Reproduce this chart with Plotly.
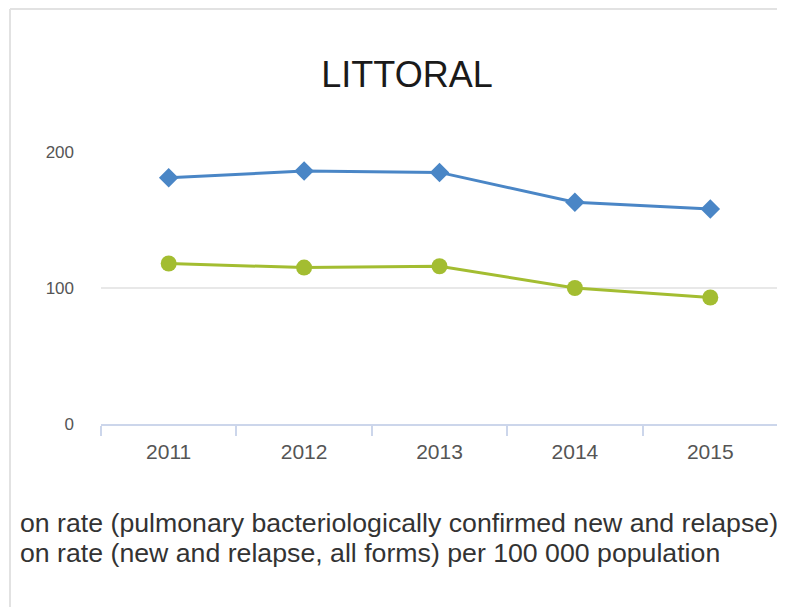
import plotly.graph_objects as go

years = ["2011", "2012", "2013", "2014", "2015"]
bact_confirmed = [181, 186, 185, 163, 158]
all_forms = [118, 115, 116, 100, 93]
series_names = [
    "on rate (pulmonary bacteriologically confirmed new and relapse)",
    "on rate (new and relapse, all forms) per 100 000 population",
]
title_text = "LITTORAL"

OFF = 8  # page body margin offset
W, H = 785, 607
L, T = 101 - OFF, 152 - OFF
pw, ph = 677, 272
R, B = W - L - pw, H - T - ph

def px2paper_x(px):
    return (px - OFF - L) / pw

def px2paper_y(py):
    return (T + ph - (py - OFF)) / ph

FONT = "Liberation Sans, Arial, Helvetica, sans-serif"

fig = go.Figure()
fig.add_trace(go.Scatter(
    x=years, y=bact_confirmed, mode="lines+markers", name=series_names[0],
    line=dict(color="#4a86c6", width=3),
    marker=dict(symbol="diamond", size=15, color="#4a86c6"),
    showlegend=False,
))
fig.add_trace(go.Scatter(
    x=years, y=all_forms, mode="lines+markers", name=series_names[1],
    line=dict(color="#a3bd31", width=3),
    marker=dict(symbol="circle", size=16, color="#a3bd31"),
    showlegend=False,
))

fig.update_layout(
    width=W, height=H,
    margin=dict(l=L, r=R, t=T, b=B),
    paper_bgcolor="white", plot_bgcolor="white",
    font=dict(family=FONT, color="#333333"),
    title=dict(text=title_text, xref="container", yref="container",
               x=(407 - OFF) / W, y=1 - (74 - OFF) / H, xanchor="center", yanchor="middle",
               font=dict(size=36, color="#1a1a1a", family=FONT)),
    xaxis=dict(
        type="category", range=[-0.5, 4.5], showgrid=False,
        showline=True, linecolor="#ccd6eb", linewidth=2,
        ticks="outside", tickson="boundaries", ticklen=10, tickcolor="#ccd6eb", tickwidth=2,
        tickfont=dict(size=21, color="#555555"), ticklabelstandoff=8,
        zeroline=False, fixedrange=True,
    ),
    yaxis=dict(
        range=[0, 200], tickvals=[0, 100, 200], showgrid=True,
        gridcolor="#e8e8e8", gridwidth=2, zeroline=False, showline=False,
        tickfont=dict(size=17, color="#555555"), ticklabelstandoff=26,
        fixedrange=True,
    ),
)

# legend-like labels (cut off at left as in reference)
for name, py in zip(series_names, [523, 553]):
    fig.add_annotation(
        text=name, xref="paper", yref="paper",
        x=px2paper_x(18), y=px2paper_y(py), xanchor="left", yanchor="middle",
        showarrow=False, font=dict(size=26.7, color="#333333", family=FONT),
    )

# chart border (top and left edges visible)
fig.add_shape(type="line", xref="paper", yref="paper",
              x0=px2paper_x(10), x1=px2paper_x(800), y0=px2paper_y(9), y1=px2paper_y(9),
              line=dict(color="#e2e2e2", width=2))
fig.add_shape(type="line", xref="paper", yref="paper",
              x0=px2paper_x(10), x1=px2paper_x(10), y0=px2paper_y(9), y1=px2paper_y(620),
              line=dict(color="#e2e2e2", width=2))

fig.write_html("out.html")
